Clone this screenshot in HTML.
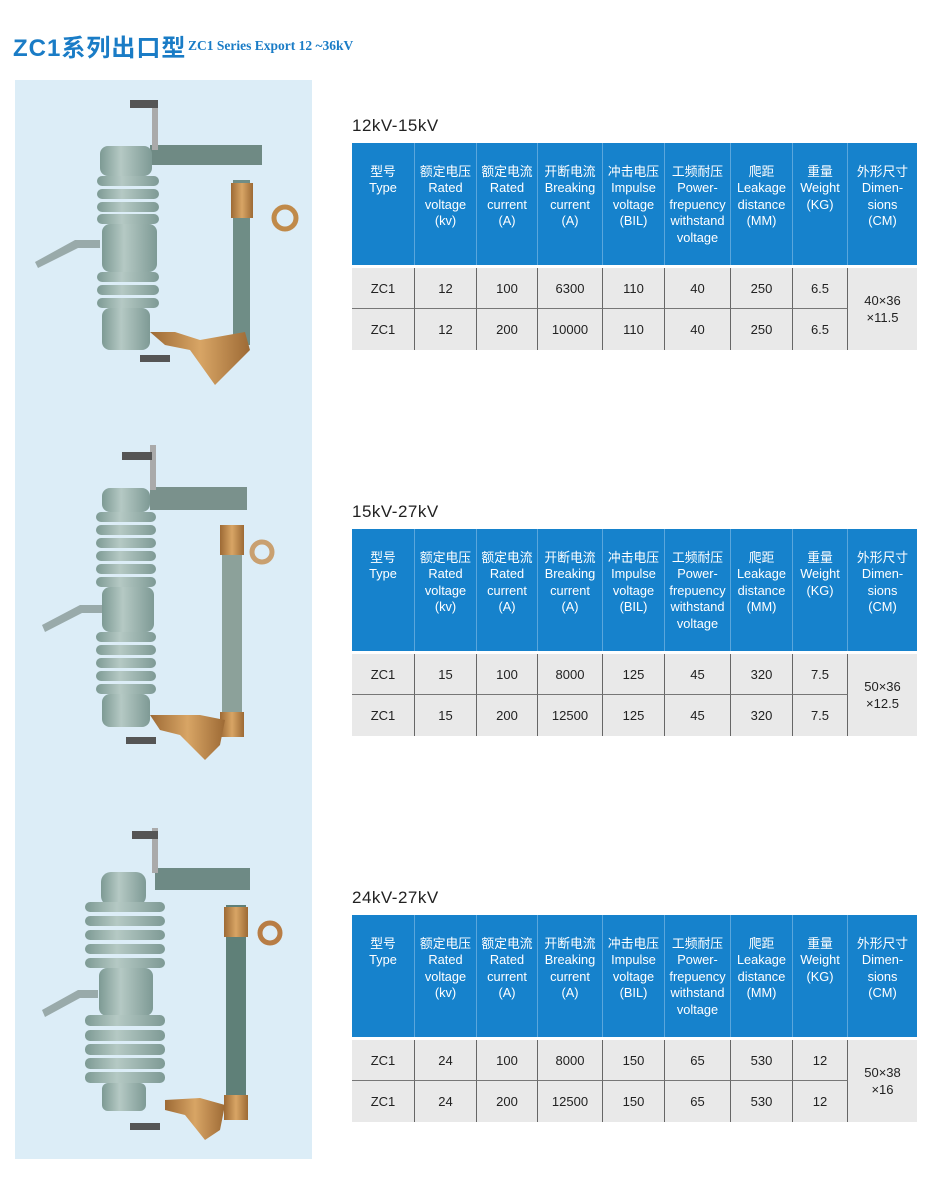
<!DOCTYPE html>
<html><head><meta charset="utf-8"><style>
body{margin:0;background:#fff;width:930px;height:1196px;position:relative;overflow:hidden;font-family:"Liberation Sans","Noto Sans CJK SC",sans-serif}
.t{position:absolute}
.ttl{position:absolute;left:352px;font-size:17px;color:#222;letter-spacing:.5px}
.hd{position:absolute;background:#1682cc;color:#fff;font-size:12.8px;line-height:16.4px;text-align:center;box-sizing:border-box;padding-top:21px;height:122px;top:0}
.cell{position:absolute;background:#e9e9e9;color:#222;font-size:13px;text-align:center;box-sizing:border-box}
</style></head><body>
<div style="position:absolute;left:13px;top:28px;font-size:24px;font-weight:bold;color:#1a7cc6;letter-spacing:1px;font-family:'Liberation Sans','Noto Sans CJK SC',sans-serif">ZC1系列出口型</div>
<div style="position:absolute;left:188px;top:38px;font-size:13.5px;font-weight:bold;color:#1a7cc6;font-family:'Liberation Serif',serif">ZC1 Series Export 12 ~36kV</div>
<div style="position:absolute;left:15px;top:80px;width:297px;height:1079px;background:#dcedf7"></div>

<svg style="position:absolute;left:0;top:0" width="930" height="1196">
<defs>
<linearGradient id="g" x1="0" x2="1"><stop offset="0" stop-color="#7d9a94"/><stop offset=".4" stop-color="#b5c9c4"/><stop offset="1" stop-color="#7e9a95"/></linearGradient>
<linearGradient id="b" x1="0" x2="1"><stop offset="0" stop-color="#9d6a35"/><stop offset=".5" stop-color="#d8a565"/><stop offset="1" stop-color="#9d6a35"/></linearGradient>
</defs>
<g>
<path d="M35 262 L75 240 L100 240 L100 248 L78 248 L38 268Z" fill="#9aa"/>
<rect x="150" y="145" width="112" height="20" fill="#6f8a84"/>
<rect x="152" y="100" width="6" height="50" fill="#aaa"/><rect x="130" y="100" width="28" height="8" fill="#555"/>
<rect x="100" y="146" width="52" height="30" rx="8" fill="url(#g)"/>
<g fill="url(#g)"><rect x="97" y="176" width="62" height="10" rx="5"/><rect x="97" y="189" width="62" height="10" rx="5"/><rect x="97" y="202" width="62" height="10" rx="5"/><rect x="97" y="214" width="62" height="10" rx="5"/>
<rect x="102" y="224" width="55" height="48" rx="8"/>
<rect x="97" y="272" width="62" height="10" rx="5"/><rect x="97" y="285" width="62" height="10" rx="5"/><rect x="97" y="298" width="62" height="10" rx="5"/>
<rect x="102" y="308" width="48" height="42" rx="8"/></g>
<rect x="233" y="180" width="17" height="165" fill="#6f8d86"/>
<rect x="231" y="183" width="22" height="35" fill="url(#b)"/>
<circle cx="285" cy="218" r="11" fill="none" stroke="#c08a4a" stroke-width="5"/>
<path d="M150 332 L175 332 L200 340 L245 332 L250 350 L215 385 L190 350 L165 345Z" fill="url(#b)"/>
<rect x="140" y="355" width="30" height="7" fill="#555"/>
</g>
<g>
<path d="M42 625 L80 605 L102 605 L102 613 L82 613 L45 632Z" fill="#9aa"/>
<rect x="150" y="487" width="97" height="23" fill="#7a918c"/>
<rect x="150" y="445" width="6" height="45" fill="#aaa"/><rect x="122" y="452" width="30" height="8" fill="#555"/>
<rect x="102" y="488" width="48" height="24" rx="8" fill="url(#g)"/>
<g fill="url(#g)"><rect x="96" y="512" width="60" height="10" rx="5"/><rect x="96" y="525" width="60" height="10" rx="5"/><rect x="96" y="538" width="60" height="10" rx="5"/><rect x="96" y="551" width="60" height="10" rx="5"/><rect x="96" y="564" width="60" height="10" rx="5"/><rect x="96" y="577" width="60" height="10" rx="5"/>
<rect x="102" y="587" width="52" height="45" rx="8"/>
<rect x="96" y="632" width="60" height="10" rx="5"/><rect x="96" y="645" width="60" height="10" rx="5"/><rect x="96" y="658" width="60" height="10" rx="5"/><rect x="96" y="671" width="60" height="10" rx="5"/><rect x="96" y="684" width="60" height="10" rx="5"/>
<rect x="102" y="694" width="48" height="33" rx="8"/></g>
<rect x="222" y="525" width="20" height="210" fill="#8ca19a"/>
<rect x="220" y="525" width="24" height="30" fill="url(#b)"/><rect x="220" y="712" width="24" height="25" fill="url(#b)"/>
<circle cx="262" cy="552" r="10" fill="none" stroke="#c9a070" stroke-width="5"/>
<path d="M150 715 L200 715 L225 720 L220 745 L205 760 L180 735 L160 730Z" fill="url(#b)"/>
<rect x="126" y="737" width="30" height="7" fill="#555"/>
</g>
<g>
<path d="M42 1010 L78 990 L98 990 L98 998 L80 998 L45 1017Z" fill="#9aa"/>
<rect x="155" y="868" width="95" height="22" fill="#6e8a85"/>
<rect x="152" y="828" width="6" height="45" fill="#aaa"/><rect x="132" y="831" width="26" height="8" fill="#555"/>
<rect x="101" y="872" width="45" height="34" rx="10" fill="url(#g)"/>
<g fill="url(#g)"><rect x="85" y="902" width="80" height="10" rx="5"/><rect x="85" y="916" width="80" height="10" rx="5"/><rect x="85" y="930" width="80" height="10" rx="5"/><rect x="85" y="944" width="80" height="10" rx="5"/><rect x="85" y="958" width="80" height="10" rx="5"/>
<rect x="99" y="968" width="54" height="48" rx="8"/>
<rect x="85" y="1015" width="80" height="11" rx="5"/><rect x="85" y="1030" width="80" height="11" rx="5"/><rect x="85" y="1044" width="80" height="11" rx="5"/><rect x="85" y="1058" width="80" height="11" rx="5"/><rect x="85" y="1072" width="80" height="11" rx="5"/>
<rect x="102" y="1083" width="44" height="28" rx="6"/></g>
<rect x="226" y="905" width="20" height="215" fill="#5f8078"/>
<rect x="224" y="907" width="24" height="30" fill="url(#b)"/><rect x="224" y="1095" width="24" height="25" fill="url(#b)"/>
<circle cx="270" cy="933" r="10" fill="none" stroke="#b87d45" stroke-width="5"/>
<path d="M165 1100 L200 1098 L225 1105 L220 1130 L205 1140 L185 1115 L165 1110Z" fill="url(#b)"/>
<rect x="130" y="1123" width="30" height="7" fill="#555"/>
</g>
</svg>

<div class="ttl" style="top:116px">12kV-15kV</div>
<div class="ttl" style="top:502px">15kV-27kV</div>
<div class="ttl" style="top:888px">24kV-27kV</div>

<div id="T1" class="t" style="left:352px;top:143px;width:565px;height:207px"></div>
<div id="T2" class="t" style="left:352px;top:529px;width:565px;height:207px"></div>
<div id="T3" class="t" style="left:352px;top:915px;width:565px;height:207px"></div>

<script>
var cols=[0,63,125,186,251,313,379,441,496,565];
var hd=["型号<br>Type","额定电压<br>Rated<br>voltage<br>(kv)","额定电流<br>Rated<br>current<br>(A)","开断电流<br>Breaking<br>current<br>(A)","冲击电压<br>Impulse<br>voltage<br>(BIL)","工频耐压<br>Power-<br>frepuency<br>withstand<br>voltage","爬距<br>Leakage<br>distance<br>(MM)","重量<br>Weight<br>(KG)","外形尺寸<br>Dimen-<br>sions<br>(CM)"];
var data={T1:[["ZC1","12","100","6300","110","40","250","6.5"],["ZC1","12","200","10000","110","40","250","6.5"],"40×36<br>×11.5"],
T2:[["ZC1","15","100","8000","125","45","320","7.5"],["ZC1","15","200","12500","125","45","320","7.5"],"50×36<br>×12.5"],
T3:[["ZC1","24","100","8000","150","65","530","12"],["ZC1","24","200","12500","150","65","530","12"],"50×38<br>×16"]};
for(var k in data){var el=document.getElementById(k),h="";
for(var i=0;i<9;i++){var x=cols[i],w=cols[i+1]-x;
h+='<div class="hd" style="left:'+x+'px;width:'+w+'px;'+(i<8?'border-right:1px solid #5aa6dc':'')+'">'+hd[i]+'</div>';}
for(var r=0;r<2;r++)for(var i=0;i<8;i++){var x=cols[i],w=cols[i+1]-x,y=125+r*41;
h+='<div class="cell" style="left:'+x+'px;top:'+y+'px;width:'+w+'px;height:41px;line-height:41px;border-right:1px solid #666;'+(r==0?'border-bottom:1px solid #777':'')+'">'+data[k][r][i]+'</div>';}
h+='<div class="cell" style="left:496px;top:125px;width:69px;height:82px;padding-top:24px;line-height:17px">'+data[k][2]+'</div>';
el.innerHTML=h;}
</script>
</body></html>
